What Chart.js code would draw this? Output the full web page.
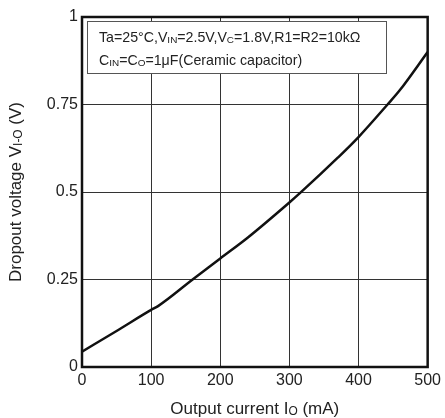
<!DOCTYPE html>
<html>
<head>
<meta charset="utf-8">
<script src="https://cdn.jsdelivr.net/npm/chart.js@4"></script>
<style>
  html, body { margin: 0; padding: 0; background: #fff; }
  #wrap { width: 445px; height: 418px; }
</style>
</head>
<body>
<div id="wrap"><canvas id="c" width="445" height="418"></canvas></div>
<script>
// data
const currentMA = [0, 50, 100, 110, 160, 200, 240, 300, 316, 370, 400, 442, 459, 500];
const dropoutV  = [0.044, 0.103, 0.163, 0.174, 0.25, 0.31, 0.37, 0.47, 0.498, 0.598, 0.657, 0.75, 0.789, 0.90];
const xTicks = [0, 100, 200, 300, 400, 500];
const yTicks = [0, 0.25, 0.5, 0.75, 1];

const FONT = '"Liberation Sans", Arial, sans-serif';

// draws a run of [text, isSub] pieces starting at x,y (baseline)
function drawRich(ctx, parts, x, y, size){
  parts.forEach(p => {
    const s = p[1] ? size * 0.7 : size;
    ctx.font = s + 'px ' + FONT;
    ctx.fillText(p[0], x, y + (p[1] ? size * 0.05 : 0));
    x += ctx.measureText(p[0]).width;
  });
  return x;
}
function richWidth(ctx, parts, size){
  let w = 0;
  parts.forEach(p => {
    ctx.font = (p[1] ? size * 0.7 : size) + 'px ' + FONT;
    w += ctx.measureText(p[0]).width;
  });
  return w;
}

const decor = {
  id: 'decor',
  afterDraw(chart){
    const ctx = chart.ctx, a = chart.chartArea;
    ctx.save();
    // frame
    ctx.strokeStyle = '#111';
    ctx.lineWidth = 2.5;
    ctx.strokeRect(a.left, a.top, a.right - a.left, a.bottom - a.top);

    // note box
    ctx.fillStyle = '#fff';
    ctx.fillRect(87, 21, 299, 52);
    ctx.strokeStyle = '#555';
    ctx.lineWidth = 1;
    ctx.strokeRect(87.5, 21.5, 299, 52);
    ctx.fillStyle = '#222';
    ctx.textBaseline = 'alphabetic';
    drawRich(ctx, [['Ta=25°C,V',0],['IN',1],['=2.5V,V',0],['C',1],['=1.8V,R1=R2=10kΩ',0]], 99, 42, 14.2);
    drawRich(ctx, [['C',0],['IN',1],['=C',0],['O',1],['=1μF(Ceramic capacitor)',0]], 99, 65, 14.2);

    // x title
    const xt = [['Output current I',0],['O',1],[' (mA)',0]];
    const cx = (a.left + a.right) / 2;
    drawRich(ctx, xt, cx - richWidth(ctx, xt, 17) / 2, 414, 17);

    // y title
    const yt = [['Dropout voltage V',0],['I-O',1],[' (V)',0]];
    ctx.translate(21, (a.top + a.bottom) / 2);
    ctx.rotate(-Math.PI / 2);
    drawRich(ctx, yt, -richWidth(ctx, yt, 17) / 2, 0, 17);
    ctx.restore();
  }
};

new Chart(document.getElementById('c'), {
  type: 'scatter',
  data: {
    datasets: [{
      data: currentMA.map((x, i) => ({ x, y: dropoutV[i] })),
      showLine: true,
      borderColor: '#111',
      borderWidth: 2.5,
      pointRadius: 0,
      cubicInterpolationMode: 'monotone',
      fill: false
    }]
  },
  options: {
    responsive: false,
    animation: false,
    layout: { padding: { top: 17, right: 15, left: 0, bottom: 0 } },
    plugins: { legend: { display: false }, tooltip: { enabled: false } },
    scales: {
      x: {
        type: 'linear', min: 0, max: 500,
        afterBuildTicks: s => { s.ticks = xTicks.map(v => ({ value: v })); },
        afterFit: s => { s.height = 51; },
        grid: { color: '#333', lineWidth: 1, drawTicks: false },
        border: { display: false },
        ticks: { color: '#222', font: { family: FONT, size: 16 }, padding: 4, maxRotation: 0,
                 callback: v => String(v) }
      },
      y: {
        type: 'linear', min: 0, max: 1,
        afterBuildTicks: s => { s.ticks = yTicks.map(v => ({ value: v })); },
        afterFit: s => { s.width = 82; },
        grid: { color: '#333', lineWidth: 1, drawTicks: false },
        border: { display: false },
        ticks: { color: '#222', font: { family: FONT, size: 16 }, padding: 4,
                 callback: v => String(v) }
      }
    }
  },
  plugins: [decor]
});
</script>
</body>
</html>
